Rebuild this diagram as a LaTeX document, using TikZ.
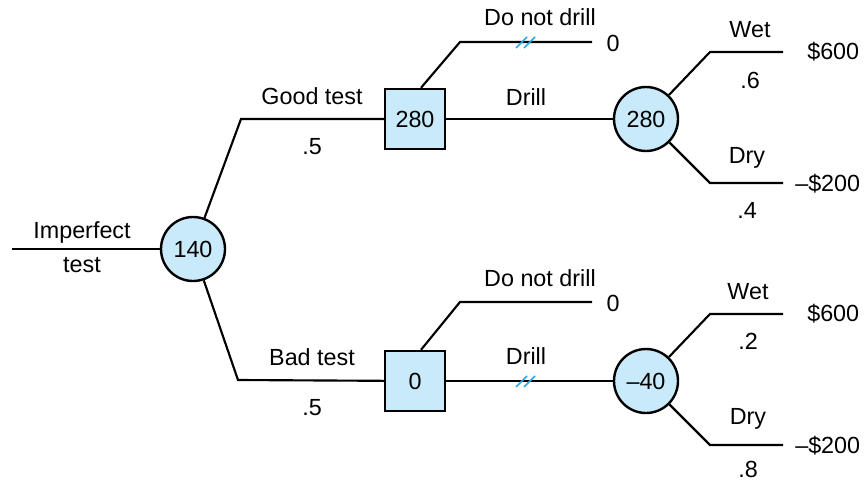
\documentclass[tikz,border=0pt]{standalone}
\usepackage{fontspec}
\setmainfont{Liberation Sans}
\definecolor{nodefill}{RGB}{200,234,250}
\definecolor{hashcol}{RGB}{40,170,225}
\begin{document}
\begin{tikzpicture}[x=0.75pt,y=-0.75pt,
  lbl/.style={font=\fontsize{17.5}{20}\selectfont, inner sep=0pt},
  chance/.style={circle, draw, line width=1.8pt, fill=nodefill, minimum size=48pt, inner sep=0pt, font=\fontsize{17.5}{20}\selectfont},
  decision/.style={rectangle, draw, line width=1.8pt, fill=nodefill, minimum size=45pt, inner sep=0pt, font=\fontsize{17.5}{20}\selectfont},
  branch/.style={line width=1.6pt},
  hash/.style={hashcol, line width=1.2pt}]
\useasboundingbox (0,0) rectangle (867,482);

% nodes
\node[chance] (c0) at (193,249) {140};
\node[decision] (s1) at (415,119) {280};
\node[decision] (s2) at (415,381) {0};
\node[chance] (c1) at (646,119) {280};
\node[chance] (c2) at (646,381) {\textendash40};

% bend coordinates
\coordinate (root) at (12,249);
\coordinate (gb) at (241,119);
\coordinate (bb) at (238,380);
\coordinate (dnd1a) at (460,42);
\coordinate (dnd1b) at (592,42);
\coordinate (dnd2a) at (460,302);
\coordinate (dnd2b) at (592,302);
\coordinate (w1a) at (710,52);
\coordinate (w1b) at (783,52);
\coordinate (d1a) at (710,183);
\coordinate (d1b) at (783,183);
\coordinate (w2a) at (710,314);
\coordinate (w2b) at (783,314);
\coordinate (d2a) at (710,445);
\coordinate (d2b) at (783,445);

% connectors
\draw[branch] (root) -- (c0);
\draw[branch] (c0) -- (gb) -- (s1);
\draw[branch] (c0) -- (bb) -- (s2);
\draw[branch] ([xshift=4.5pt]s1.north) -- (dnd1a) -- (dnd1b);
\draw[branch] ([xshift=4.5pt]s2.north) -- (dnd2a) -- (dnd2b);
\draw[branch] (s1) -- (c1);
\draw[branch] (s2) -- (c2);
\draw[branch] (c1) -- (w1a) -- (w1b);
\draw[branch] (c1) -- (d1a) -- (d1b);
\draw[branch] (c2) -- (w2a) -- (w2b);
\draw[branch] (c2) -- (d2a) -- (d2b);

% hash marks (blocked branches)
\draw[hash] (516,48) -- (527,37) (524,48) -- (535,37);
\draw[hash] (516,387) -- (527,376) (524,387) -- (535,376);

% labels
\node[lbl] (t1) at (82,232) {Imperfect};
\node[lbl] (t2) at (82,265) {test};
\node[lbl] (gt) at (312,96) {Good test};
\node[lbl] (gp) at (312,147) {.5};
\node[lbl] (bt) at (312,357) {Bad test};
\node[lbl] (bp) at (312,408) {.5};
\node[lbl] (dn1) at (540,17) {Do not drill};
\node[lbl] (z1) at (613,43) {0};
\node[lbl] (dr1) at (526,97) {Drill};
\node[lbl] (dn2) at (540,278) {Do not drill};
\node[lbl] (z2) at (613,303) {0};
\node[lbl] (dr2) at (526,356) {Drill};
\node[lbl] (wt1) at (750,30) {Wet};
\node[lbl] (wp1) at (750,80) {.6};
\node[lbl,anchor=west] (v1) at (807,52) {\$600};
\node[lbl] (dy1) at (747,158) {Dry};
\node[lbl] (dp1) at (747,210) {.4};
\node[lbl,anchor=west] (v2) at (795,184) {\textendash\$200};
\node[lbl] (wt2) at (748,292) {Wet};
\node[lbl] (wp2) at (748,341) {.2};
\node[lbl,anchor=west] (v3) at (807,314) {\$600};
\node[lbl] (dy2) at (748,419) {Dry};
\node[lbl] (dp2) at (748,469) {.8};
\node[lbl,anchor=west] (v4) at (795,446) {\textendash\$200};
\end{tikzpicture}
\end{document}
